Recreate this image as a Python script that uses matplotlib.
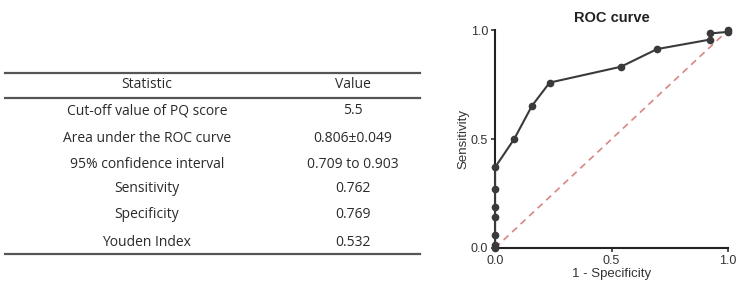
import matplotlib.pyplot as plt

plt.rcParams['font.family'] = ['Open Sans', 'DejaVu Sans']

# table contents
stat_names = ["Cut-off value of PQ score", "Area under the ROC curve",
              "95% confidence interval", "Sensitivity", "Specificity",
              "Youden Index"]
stat_values = ["5.5", "0.806\u00b10.049", "0.709 to 0.903", "0.762",
               "0.769", "0.532"]

# ROC points (1 - specificity, sensitivity)
fpr = [0.0, 0.0, 0.0, 0.0, 0.0, 0.0, 0.0, 0.082, 0.158, 0.234, 0.54, 0.695,
       0.924, 0.924, 1.0, 1.0]
tpr = [0.0, 0.015, 0.06, 0.14, 0.19, 0.27, 0.37, 0.50, 0.652, 0.759, 0.832,
       0.913, 0.957, 0.985, 0.992, 1.0]

fig = plt.figure(figsize=(7.4, 2.87), dpi=100)

# --- table, drawn in pixel coords of the left part
tab = fig.add_axes([0, 0, 1, 1])
tab.set_xlim(0, 740)
tab.set_ylim(287, 0)
tab.axis('off')

x0, x1 = 5, 420
col1, col2 = 147, 353
fs = 10
tab.plot([x0, x1], [72.5, 72.5], color='#555555', lw=1.6)
tab.plot([x0, x1], [98, 98], color='#555555', lw=1.6)
tab.plot([x0, x1], [253.5, 253.5], color='#555555', lw=1.6)
tab.text(col1, 85, "Statistic", ha='center', va='center', fontsize=fs, color='#2a2a2a')
tab.text(col2, 85, "Value", ha='center', va='center', fontsize=fs, color='#2a2a2a')
row_y = [111, 138, 164, 189, 215, 242]
for y, name, val in zip(row_y, stat_names, stat_values):
    tab.text(col1, y, name, ha='center', va='center', fontsize=fs, color='#2a2a2a')
    tab.text(col2, y, val, ha='center', va='center', fontsize=fs, color='#2a2a2a')

# --- ROC plot
ax = fig.add_axes([0.669, 0.136, 0.315, 0.759])
ax.plot([0, 1], [0, 1], linestyle=(0, (4, 3)), color='#d98585', lw=1.2)
ax.plot(fpr, tpr, color='#3a3a3a', lw=1.5, marker='o', markersize=4.5,
        clip_on=False, zorder=3)
ax.set_xlim(0, 1)
ax.set_ylim(0, 1)
ax.set_xticks([0, 0.5, 1.0])
ax.set_yticks([0, 0.5, 1.0])
ax.set_xticklabels(["0.0", "0.5", "1.0"])
ax.set_yticklabels(["0.0", "0.5", "1.0"])
for s in ['top', 'right']:
    ax.spines[s].set_visible(False)
for s in ['left', 'bottom']:
    ax.spines[s].set_linewidth(1.5)
    ax.spines[s].set_color('#222222')
ax.tick_params(labelsize=9, width=1.2, length=3, pad=2, colors='#333333')
ax.set_xlabel("1 - Specificity", fontsize=9.5, family=['Liberation Sans'],
              labelpad=1, color='#333333')
ax.set_ylabel("Sensitivity", fontsize=9.5, family=['Liberation Sans'],
              labelpad=1, color='#333333')
for lbl in ax.get_xticklabels() + ax.get_yticklabels():
    lbl.set_family(['Liberation Sans'])
ax.set_title("ROC curve", fontsize=10.5, fontweight='bold',
             family=['Liberation Sans'], pad=6, color='#222222')

fig.savefig("out.png", dpi=100)
